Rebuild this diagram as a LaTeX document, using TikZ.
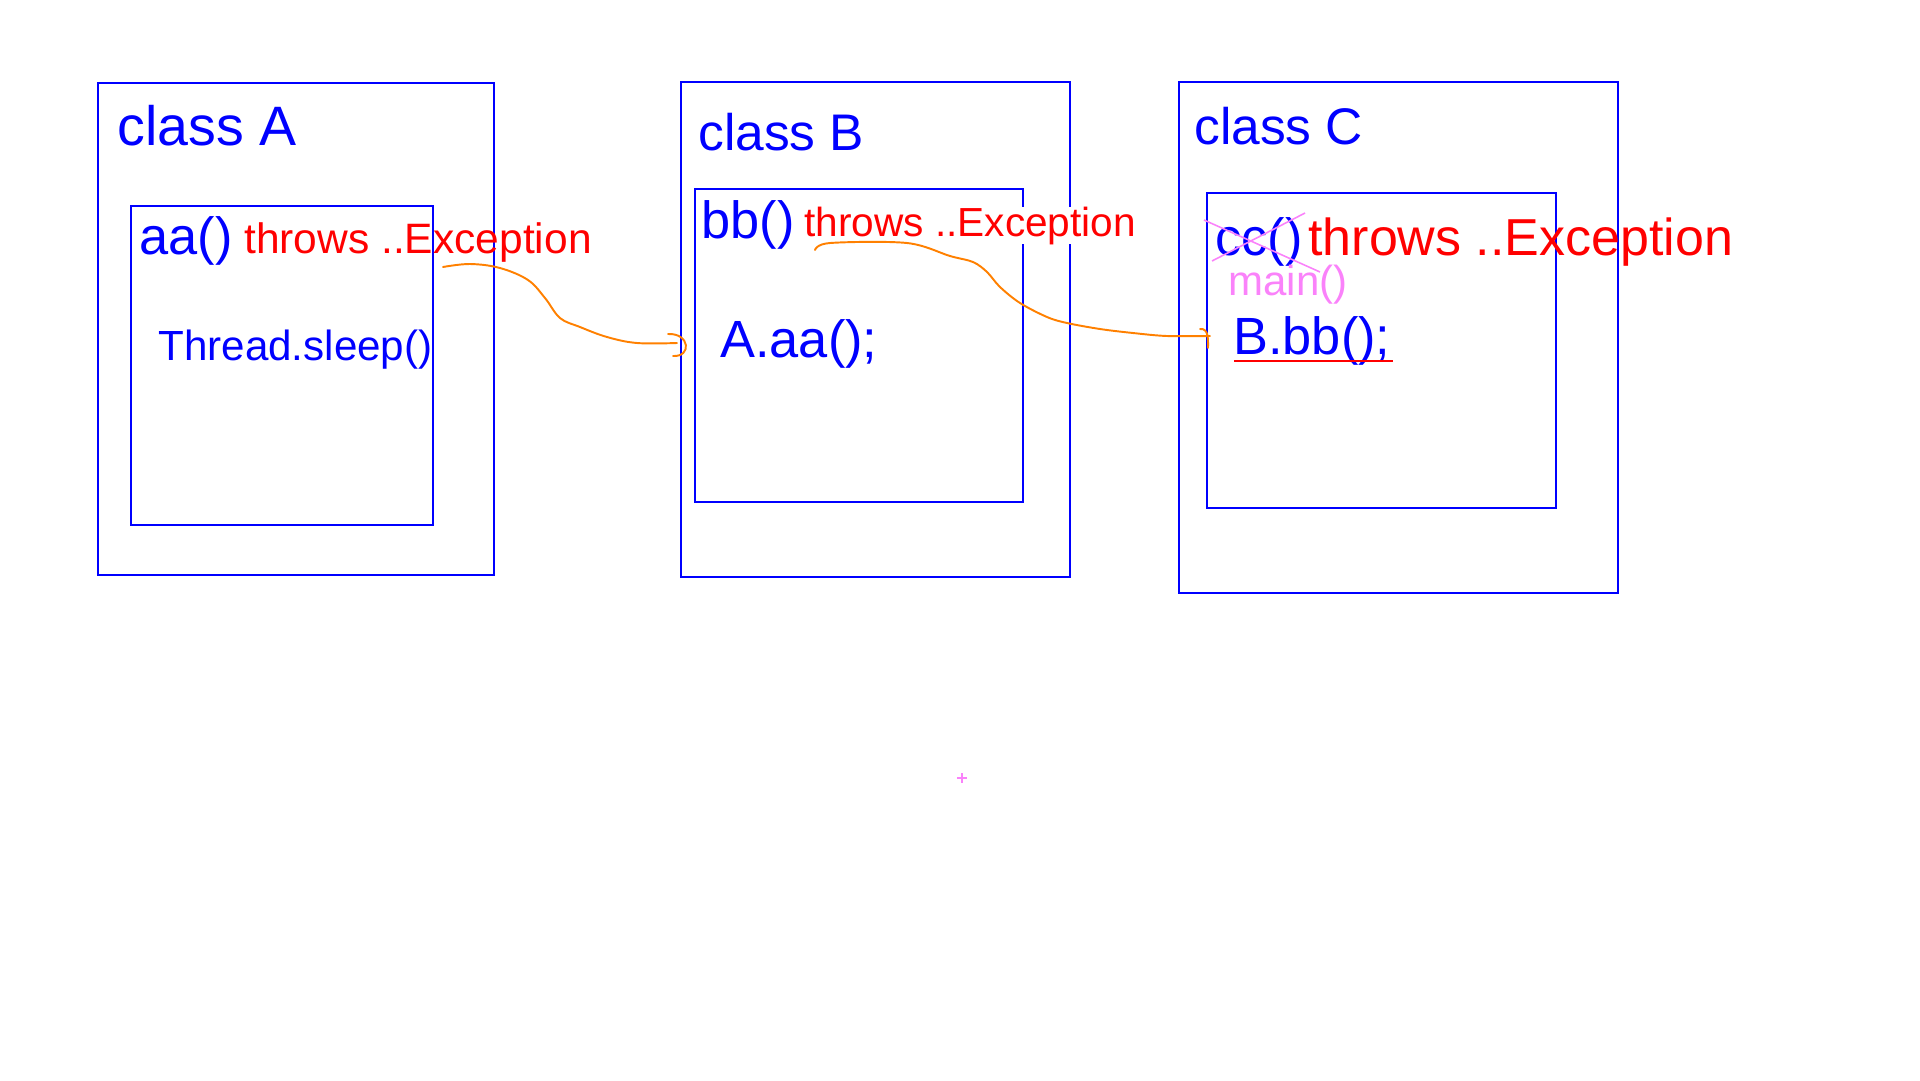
\documentclass[tikz,border=0pt]{standalone}
\usepackage{fontspec}
\setmainfont{Liberation Sans}
\usetikzlibrary{arrows.meta}

\definecolor{penblue}{RGB}{0,0,255}
\definecolor{penred}{RGB}{255,0,0}
\definecolor{penorange}{RGB}{255,128,0}
\definecolor{penpink}{RGB}{250,130,250}

\begin{document}
\begin{tikzpicture}[x=0.02cm, y=-0.02cm,
  box/.style={draw=penblue, line width=1.15pt},
  txt/.style={anchor=base west, inner sep=0pt},
  clsname/.style={txt, text=penblue, font=\fontsize{29.3}{34}\selectfont},
  call/.style={txt, text=penblue, font=\fontsize{29.8}{34}\selectfont},
  note/.style={txt, font=\fontsize{23.5}{28}\selectfont},
  flow/.style={draw=penorange, line width=1.1pt, line cap=round, line join=round},
  scribble/.style={draw=penpink, line width=0.9pt}]
  \useasboundingbox (0,0) rectangle (1920,1080);

  \draw[box] (98,83) rectangle (494,575);
  \draw[box] (131,206) rectangle (433,525);
  \draw[box] (681,82) rectangle (1070,577);
  \draw[box] (695,189) rectangle (1023,502);
  \draw[box] (1179,82) rectangle (1618,593);
  \draw[box] (1207,193) rectangle (1556,508);

  \node[clsname, font=\fontsize{31.6}{36}\selectfont] (clsA) at (117,145) {class A};
  \node[call] (aa) at (139,254) {aa()};
  \node[note, text=penred, font=\fontsize{24.2}{28}\selectfont] (thrA) at (244,253) {throws ..Exception};
  \node[note, text=penblue, font=\fontsize{24}{28}\selectfont] (sleep) at (158,360) {Thread.sleep()};

  \node[clsname] (clsB) at (698,150) {class B};
  \node[call] (bb) at (701,238) {bb()};
  \node[note, text=penred, fill=white, font=\fontsize{23.1}{28}\selectfont] (thrB) at (804,236) {throws ..Exception};
  \node[call] (callA) at (720,357) {A.aa();};

  \node[clsname] (clsC) at (1194,144) {class C};
  \node[call] (cc) at (1215,255) {cc()};
  \node[txt, text=penred, font=\fontsize{29.6}{34}\selectfont] (thrC) at (1308,255) {throws ..Exception};
  \node[note, text=penpink, font=\fontsize{23.9}{28}\selectfont] (mainC) at (1228,295) {main()};
  \node[call] (callB) at (1233,354) {B.bb();};

  \coordinate (s1) at (443,267);
  \coordinate (e1) at (677,343);
  \coordinate (s2) at (815,250);
  \coordinate (e2) at (1210,336);

  \draw[flow] plot[smooth, tension=0.6] coordinates {(s1) (470,264) (500,268) (528,280) (545,298) (560,318) (580,327) (607,337) (637,343) (e1)};
  \draw[flow] ([shift={(-9,-9)}]e1) .. controls +(22,-1) and +(19,1) .. ([shift={(-4,13)}]e1);
  \draw[flow] plot[smooth, tension=0.55] coordinates {(s2) (830,243) (907,243) (950,256) (973,262) (987,272) (1000,287) (1020,303) (1047,317) (1067,323) (1100,329) (1133,333) (1167,336) (e2)};
  \draw[flow] ([shift={(-10,-7)}]e2) .. controls +(9,-1) and +(0,-8) .. ([shift={(-2,12)}]e2);

  \draw[scribble] (1204,220) -- (1320,272);
  \draw[scribble] (1212,261) -- (1305,213);
  \draw[draw=penred, line width=0.9pt] ([shift={(1,7)}]callB.base west) -- ([shift={(2,7)}]callB.base east);

  \draw[scribble] (957,778) -- (967,778);
  \draw[scribble] (962,773) -- (962,783);
\end{tikzpicture}
\end{document}
